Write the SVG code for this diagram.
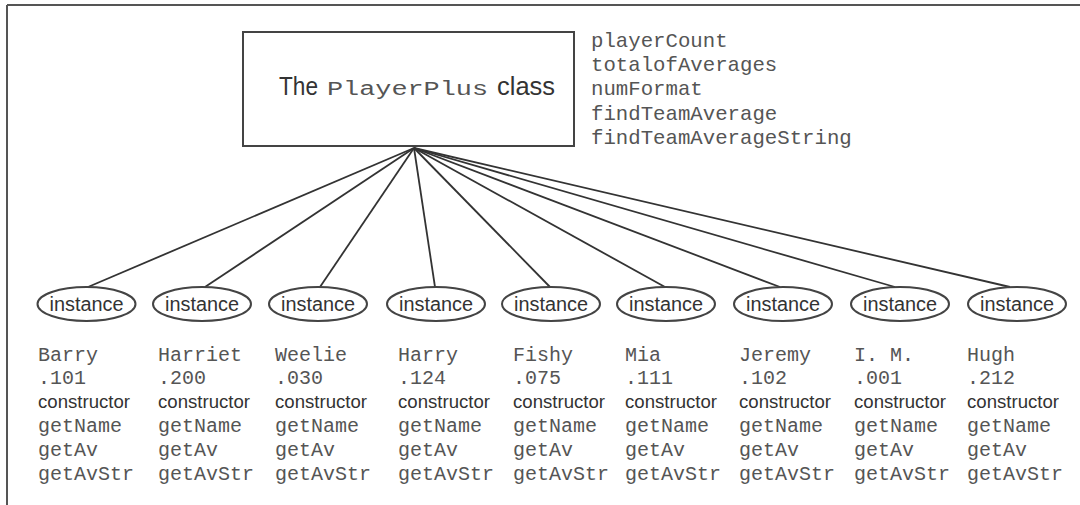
<svg xmlns="http://www.w3.org/2000/svg" width="1080" height="505" viewBox="0 0 1080 505">
<style>
.mono{font-family:"Liberation Mono","Courier New",monospace;fill:#555;font-size:20px}
.sans{font-family:"Liberation Sans",Arial,sans-serif;fill:#333}
.inst{font-size:20px}
.ctor{font-size:19px}
.ell{fill:none;stroke:#444;stroke-width:2}
.conn{stroke:#333;stroke-width:1.8;fill:none}
</style>
<rect width="1080" height="505" fill="#fff"/>
<g id="frame" stroke="#555" stroke-width="2" fill="none">
<line x1="7" y1="5" x2="1080" y2="5"/>
<line x1="7" y1="5" x2="7" y2="505"/>
</g>
<g id="class">
<rect x="243" y="32" width="331" height="114" fill="#fff" stroke="#444" stroke-width="2"/>
<text y="95" font-size="26"><tspan class="sans" x="279" textLength="39" lengthAdjust="spacingAndGlyphs">The</tspan><tspan class="mono" x="327" font-size="26.8" textLength="161" lengthAdjust="spacingAndGlyphs">PlayerPlus</tspan><tspan class="sans" x="497" textLength="58" lengthAdjust="spacingAndGlyphs">class</tspan></text>
</g>
<g id="members" class="mono" font-size="20.7">
<text x="591" y="47" style="font-size:20.7px">playerCount</text>
<text x="591" y="71" style="font-size:20.7px">totalofAverages</text>
<text x="591" y="95" style="font-size:20.7px">numFormat</text>
<text x="591" y="120" style="font-size:20.7px">findTeamAverage</text>
<text x="591" y="144" style="font-size:20.7px">findTeamAverageString</text>
</g>
<g id="connectors" class="conn">
<line x1="414" y1="148" x2="88" y2="287"/>
<line x1="414" y1="148" x2="205" y2="287"/>
<line x1="414" y1="148" x2="320" y2="287"/>
<line x1="414" y1="148" x2="435" y2="287"/>
<line x1="414" y1="148" x2="550" y2="287"/>
<line x1="414" y1="148" x2="665" y2="287"/>
<line x1="414" y1="148" x2="780" y2="287"/>
<line x1="414" y1="148" x2="895" y2="287"/>
<line x1="414" y1="148" x2="1010" y2="287"/>
</g>
<g id="inst1">
<ellipse class="ell" cx="86.5" cy="304" rx="49" ry="17"/>
<text class="sans inst" x="86.5" y="311" text-anchor="middle" textLength="74" lengthAdjust="spacingAndGlyphs">instance</text>
<text class="mono" x="38" y="361">Barry</text><text class="mono" x="38" y="384">.101</text>
<text class="sans ctor" x="38" y="408" textLength="92" lengthAdjust="spacingAndGlyphs">constructor</text>
<text class="mono" x="38" y="432">getName</text><text class="mono" x="38" y="456">getAv</text><text class="mono" x="38" y="480">getAvStr</text>
</g>
<g id="inst2">
<ellipse class="ell" cx="202" cy="304" rx="49" ry="17"/>
<text class="sans inst" x="202" y="311" text-anchor="middle" textLength="74" lengthAdjust="spacingAndGlyphs">instance</text>
<text class="mono" x="158" y="361">Harriet</text><text class="mono" x="158" y="384">.200</text>
<text class="sans ctor" x="158" y="408" textLength="92" lengthAdjust="spacingAndGlyphs">constructor</text>
<text class="mono" x="158" y="432">getName</text><text class="mono" x="158" y="456">getAv</text><text class="mono" x="158" y="480">getAvStr</text>
</g>
<g id="inst3">
<ellipse class="ell" cx="318" cy="304" rx="49" ry="17"/>
<text class="sans inst" x="318" y="311" text-anchor="middle" textLength="74" lengthAdjust="spacingAndGlyphs">instance</text>
<text class="mono" x="275" y="361">Weelie</text><text class="mono" x="275" y="384">.030</text>
<text class="sans ctor" x="275" y="408" textLength="92" lengthAdjust="spacingAndGlyphs">constructor</text>
<text class="mono" x="275" y="432">getName</text><text class="mono" x="275" y="456">getAv</text><text class="mono" x="275" y="480">getAvStr</text>
</g>
<g id="inst4">
<ellipse class="ell" cx="436" cy="304" rx="49" ry="17"/>
<text class="sans inst" x="436" y="311" text-anchor="middle" textLength="74" lengthAdjust="spacingAndGlyphs">instance</text>
<text class="mono" x="398" y="361">Harry</text><text class="mono" x="398" y="384">.124</text>
<text class="sans ctor" x="398" y="408" textLength="92" lengthAdjust="spacingAndGlyphs">constructor</text>
<text class="mono" x="398" y="432">getName</text><text class="mono" x="398" y="456">getAv</text><text class="mono" x="398" y="480">getAvStr</text>
</g>
<g id="inst5">
<ellipse class="ell" cx="551" cy="304" rx="49" ry="17"/>
<text class="sans inst" x="551" y="311" text-anchor="middle" textLength="74" lengthAdjust="spacingAndGlyphs">instance</text>
<text class="mono" x="513" y="361">Fishy</text><text class="mono" x="513" y="384">.075</text>
<text class="sans ctor" x="513" y="408" textLength="92" lengthAdjust="spacingAndGlyphs">constructor</text>
<text class="mono" x="513" y="432">getName</text><text class="mono" x="513" y="456">getAv</text><text class="mono" x="513" y="480">getAvStr</text>
</g>
<g id="inst6">
<ellipse class="ell" cx="666" cy="304" rx="49" ry="17"/>
<text class="sans inst" x="666" y="311" text-anchor="middle" textLength="74" lengthAdjust="spacingAndGlyphs">instance</text>
<text class="mono" x="625" y="361">Mia</text><text class="mono" x="625" y="384">.111</text>
<text class="sans ctor" x="625" y="408" textLength="92" lengthAdjust="spacingAndGlyphs">constructor</text>
<text class="mono" x="625" y="432">getName</text><text class="mono" x="625" y="456">getAv</text><text class="mono" x="625" y="480">getAvStr</text>
</g>
<g id="inst7">
<ellipse class="ell" cx="783" cy="304" rx="49" ry="17"/>
<text class="sans inst" x="783" y="311" text-anchor="middle" textLength="74" lengthAdjust="spacingAndGlyphs">instance</text>
<text class="mono" x="739" y="361">Jeremy</text><text class="mono" x="739" y="384">.102</text>
<text class="sans ctor" x="739" y="408" textLength="92" lengthAdjust="spacingAndGlyphs">constructor</text>
<text class="mono" x="739" y="432">getName</text><text class="mono" x="739" y="456">getAv</text><text class="mono" x="739" y="480">getAvStr</text>
</g>
<g id="inst8">
<ellipse class="ell" cx="900" cy="304" rx="49" ry="17"/>
<text class="sans inst" x="900" y="311" text-anchor="middle" textLength="74" lengthAdjust="spacingAndGlyphs">instance</text>
<text class="mono" x="854" y="361">I. M.</text><text class="mono" x="854" y="384">.001</text>
<text class="sans ctor" x="854" y="408" textLength="92" lengthAdjust="spacingAndGlyphs">constructor</text>
<text class="mono" x="854" y="432">getName</text><text class="mono" x="854" y="456">getAv</text><text class="mono" x="854" y="480">getAvStr</text>
</g>
<g id="inst9">
<ellipse class="ell" cx="1017" cy="304" rx="49" ry="17"/>
<text class="sans inst" x="1017" y="311" text-anchor="middle" textLength="74" lengthAdjust="spacingAndGlyphs">instance</text>
<text class="mono" x="967" y="361">Hugh</text><text class="mono" x="967" y="384">.212</text>
<text class="sans ctor" x="967" y="408" textLength="92" lengthAdjust="spacingAndGlyphs">constructor</text>
<text class="mono" x="967" y="432">getName</text><text class="mono" x="967" y="456">getAv</text><text class="mono" x="967" y="480">getAvStr</text>
</g>
</svg>
